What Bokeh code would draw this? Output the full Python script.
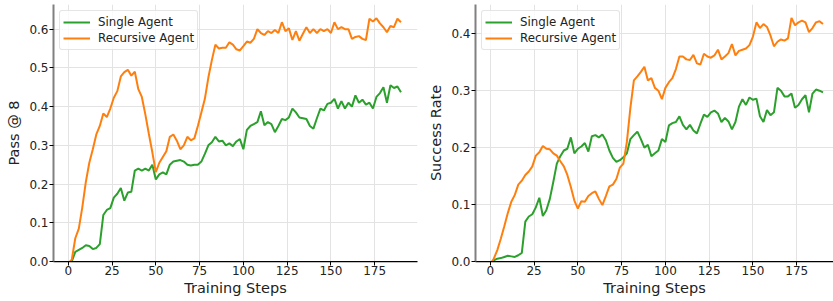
from bokeh.plotting import figure
from bokeh.layouts import row
from bokeh.models import Range1d, FixedTicker, Legend, LegendItem, NumeralTickFormatter
from bokeh.embed import file_html
from bokeh.resources import INLINE

steps = [1] + list(range(2, 191, 2))

pass8_single = [
    0.0, 0.0, 0.025, 0.03, 0.035, 0.042, 0.04, 0.032, 0.035, 0.045, 0.12,
    0.133, 0.138, 0.165, 0.175, 0.19, 0.157, 0.178, 0.18, 0.235, 0.24,
    0.235, 0.24, 0.235, 0.25, 0.212, 0.225, 0.23, 0.225, 0.25, 0.258,
    0.26, 0.262, 0.258, 0.25, 0.248, 0.25, 0.25, 0.258, 0.278, 0.3,
    0.308, 0.322, 0.31, 0.312, 0.3, 0.305, 0.298, 0.31, 0.316, 0.29,
    0.34, 0.35, 0.355, 0.36, 0.388, 0.352, 0.36, 0.355, 0.334, 0.35,
    0.368, 0.365, 0.372, 0.395, 0.385, 0.372, 0.37, 0.368, 0.35, 0.343,
    0.37, 0.395, 0.39, 0.407, 0.41, 0.42, 0.395, 0.414, 0.395, 0.41,
    0.4, 0.429, 0.41, 0.418, 0.405, 0.41, 0.395, 0.425, 0.435, 0.45,
    0.41, 0.455, 0.448, 0.452, 0.437,
]
pass8_recursive = [
    0.0, 0.005, 0.06, 0.085, 0.14, 0.205, 0.255, 0.29, 0.328, 0.35, 0.382,
    0.373, 0.395, 0.423, 0.44, 0.478, 0.489, 0.495, 0.48, 0.49, 0.445,
    0.425, 0.38, 0.33, 0.282, 0.231, 0.255, 0.27, 0.285, 0.322, 0.328,
    0.312, 0.29, 0.3, 0.322, 0.313, 0.318, 0.35, 0.385, 0.42, 0.475,
    0.52, 0.56, 0.55, 0.552, 0.552, 0.566, 0.56, 0.548, 0.545, 0.556,
    0.568, 0.565, 0.575, 0.6, 0.59, 0.585, 0.595, 0.59, 0.598, 0.59,
    0.618, 0.595, 0.602, 0.572, 0.595, 0.57, 0.588, 0.605, 0.59, 0.6,
    0.59, 0.6, 0.595, 0.6, 0.59, 0.618, 0.6, 0.605, 0.6, 0.6,
    0.575, 0.58, 0.582, 0.575, 0.572, 0.627, 0.62, 0.628, 0.615, 0.605,
    0.592, 0.608, 0.605, 0.627, 0.618,
]
success_single = [
    0.0, 0.002, 0.005, 0.006, 0.008, 0.01, 0.009, 0.008, 0.011, 0.015, 0.07,
    0.079, 0.083, 0.095, 0.112, 0.08, 0.09, 0.11, 0.14, 0.172, 0.185,
    0.195, 0.198, 0.218, 0.19, 0.198, 0.202, 0.208, 0.193, 0.22, 0.222,
    0.218, 0.223, 0.213, 0.195, 0.182, 0.175, 0.178, 0.183, 0.19, 0.215,
    0.222, 0.228, 0.215, 0.2, 0.205, 0.185, 0.19, 0.195, 0.215, 0.21,
    0.239, 0.243, 0.245, 0.255, 0.24, 0.232, 0.24, 0.23, 0.225, 0.242,
    0.258, 0.254, 0.262, 0.265, 0.26, 0.245, 0.252, 0.246, 0.232, 0.245,
    0.272, 0.285, 0.275, 0.288, 0.284, 0.286, 0.255, 0.245, 0.266, 0.257,
    0.262, 0.305, 0.3, 0.29, 0.29, 0.295, 0.27, 0.275, 0.285, 0.292,
    0.262, 0.295, 0.302, 0.3, 0.297,
]
success_recursive = [
    0.0, 0.005, 0.02, 0.04, 0.062, 0.085, 0.105, 0.117, 0.135, 0.142, 0.152,
    0.158, 0.167, 0.186, 0.192, 0.203, 0.198, 0.197, 0.19, 0.186, 0.176,
    0.167, 0.152, 0.131, 0.107, 0.093, 0.106, 0.105, 0.115, 0.12, 0.123,
    0.11, 0.099, 0.115, 0.132, 0.135, 0.145, 0.165, 0.172, 0.21, 0.27,
    0.318, 0.325, 0.333, 0.342, 0.318, 0.322, 0.305, 0.3, 0.285, 0.305,
    0.315, 0.322, 0.338, 0.36, 0.36, 0.355, 0.354, 0.363, 0.348, 0.346,
    0.365, 0.36, 0.358, 0.362, 0.372, 0.355, 0.36, 0.366, 0.382, 0.362,
    0.37, 0.372, 0.374, 0.38, 0.395, 0.42, 0.41, 0.417, 0.412, 0.397,
    0.378, 0.386, 0.39, 0.388, 0.392, 0.428, 0.415, 0.42, 0.423, 0.42,
    0.403, 0.41, 0.42, 0.422, 0.417,
]

x_ticks = [0, 25, 50, 75, 100, 125, 150, 175]
pass8_ticks = [0.0, 0.1, 0.2, 0.3, 0.4, 0.5, 0.6]
success_ticks = [0.0, 0.1, 0.2, 0.3, 0.4]
series_names = ["Single Agent", "Recursive Agent"]
colors = ["#2ca02c", "#ff7f0e"]

FONT = "DejaVu Sans"


def make_fig(single, recursive, ylabel, yticks, x_end, y_end, frame_w, border_left, border_right):
    p = figure(frame_width=frame_w, frame_height=257,
               x_range=Range1d(-8.45, x_end), y_range=Range1d(0, y_end),
               output_backend="svg", toolbar_location=None,
               min_border_left=border_left, min_border_right=border_right,
               min_border_top=4, min_border_bottom=40)
    p.outline_line_color = None
    p.background_fill_color = "white"
    p.border_fill_color = "white"

    p.xaxis.ticker = FixedTicker(ticks=x_ticks)
    p.yaxis.ticker = FixedTicker(ticks=yticks)
    p.yaxis.formatter = NumeralTickFormatter(format="0.0")
    p.xgrid.ticker = FixedTicker(ticks=x_ticks)
    p.ygrid.ticker = FixedTicker(ticks=yticks)
    for g in (p.xgrid, p.ygrid):
        g.grid_line_color = "#e3e3e3"
        g.grid_line_width = 1

    for ax in (p.xaxis, p.yaxis):
        ax.minor_tick_line_color = None
        ax.major_tick_out = 4
        ax.major_tick_in = 0
        ax.major_tick_line_color = "black"
        ax.major_label_text_font = FONT
        ax.major_label_text_font_size = "12px"
        ax.major_label_text_color = "#222222"
        ax.axis_label_text_font = FONT
        ax.axis_label_text_font_size = "14.5px"
        ax.axis_label_text_font_style = "normal"
        ax.axis_label_text_color = "#222222"
    p.xaxis.major_label_standoff = 0
    p.yaxis.major_label_standoff = 1
    p.xaxis.axis_line_color = "black"
    p.xaxis.axis_line_width = 1.25
    p.yaxis.axis_line_color = "#808080"
    p.yaxis.axis_line_width = 2
    p.xaxis.axis_label = "Training Steps"
    p.xaxis.axis_label_standoff = 2
    p.yaxis.axis_label = ylabel
    p.yaxis.axis_label_standoff = 4

    r1 = p.line(steps, single, line_color=colors[0], line_width=2)
    r2 = p.line(steps, recursive, line_color=colors[1], line_width=2)

    legend = Legend(items=[LegendItem(label=series_names[0], renderers=[r1]),
                           LegendItem(label=series_names[1], renderers=[r2])],
                    location=(6, 211))
    legend.label_text_font = FONT
    legend.label_text_font_size = "11.8px"
    legend.label_text_color = "#222222"
    legend.glyph_width = 27
    legend.glyph_height = 16
    legend.label_height = 16
    legend.label_standoff = 8
    legend.spacing = 0
    legend.padding = 3
    legend.margin = 0
    legend.border_line_color = "#cccccc"
    legend.border_line_width = 1
    legend.background_fill_color = "white"
    legend.background_fill_alpha = 0.8
    if "border_radius" in Legend.properties():
        legend.border_radius = 3
    p.add_layout(legend, "center")
    return p


p1 = make_fig(pass8_single, pass8_recursive, "Pass @ 8", pass8_ticks,
              199.45, 0.6637, 364, 53, 6)
p2 = make_fig(success_single, success_recursive, "Success Rate", success_ticks,
              196.0, 0.4514, 358, 52, 0)

layout = row(p1, p2)
open("out.html", "w").write(file_html(layout, INLINE))
